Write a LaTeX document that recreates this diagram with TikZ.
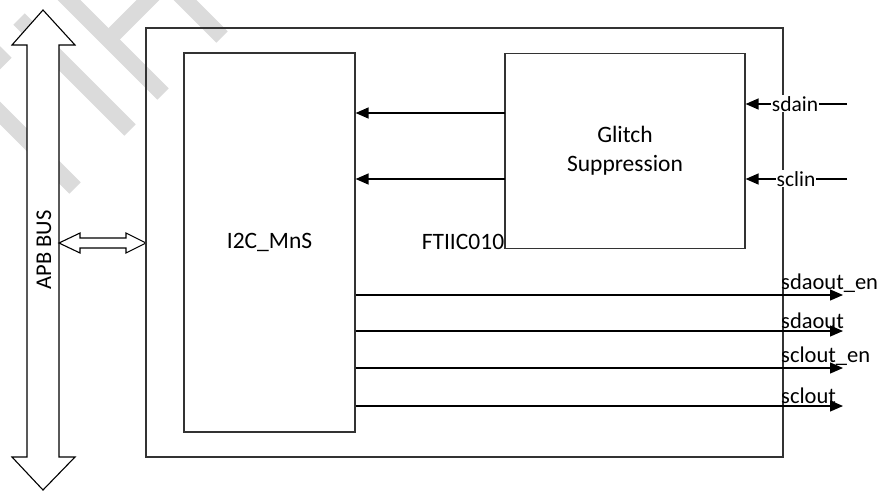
\documentclass[tikz,border=0pt]{standalone}
\usepackage{fontspec}
\setmainfont{Carlito}
\usetikzlibrary{arrows.meta}
\begin{document}
\begin{tikzpicture}[x=1pt,y=-1pt,
  blk/.style={draw=black!80, line width=1.2pt, inner sep=0pt, align=center},
  sig/.style={draw=black, line width=1.3pt, -{Triangle[length=13pt,width=11pt]}},
  lbl/.style={inner sep=1pt, font=\fontsize{22.5}{26}\selectfont},
  wlbl/.style={lbl, fill=white, inner xsep=0.5pt, anchor=base},
  hollow/.style={draw=black, line width=1.1pt, fill=white, line join=miter},
  wm/.style={draw=black!14, line width=16pt, line cap=butt}]
\useasboundingbox (0,0) rectangle (887,491);
% watermark
\begin{scope}
\clip (0,0) rectangle (887,491);
\draw[wm] (55,-14) -- (163,94);
\draw[wm] (19,19) -- (130,130);
\draw[wm] (-20,93) -- (75,188);
\draw[wm] (158,-10) -- (110,38);
\draw[wm] (175,-10) -- (222,37);
\draw[wm] (-15,73) -- (6,52);
\end{scope}
% APB bus arrow
\draw[hollow] (43,10) -- (75,45) -- (59,45) -- (59,457) -- (75,457) -- (43,490)
  -- (12,457) -- (27,457) -- (27,45) -- (12,45) -- cycle;
\node[lbl, rotate=90] (apb) at (44,250) {APB BUS};
% small double arrow
\draw[hollow] (59,243) -- (80,233) -- (80,238) -- (126,238) -- (126,233) -- (146,243)
  -- (126,253) -- (126,248) -- (80,248) -- (80,253) -- cycle;
% blocks
\node[blk, minimum width=637pt, minimum height=429pt] (outer) at (464.5,242.5) {};
\node[blk, minimum width=171pt, minimum height=379pt, font=\fontsize{23.5}{27}\selectfont] (i2c) at (269.5,242.5) {I2C\_MnS};
\node[blk, minimum width=240pt, minimum height=195pt, font=\fontsize{23.5}{29}\selectfont] (gs) at (625,151) {Glitch\\Suppression};
\node[lbl, font=\fontsize{23.5}{27}\selectfont] (ft) at (463,242) {FTIIC010};
% glitch -> i2c
\coordinate (g1) at (505,113);
\coordinate (g2) at (505,179);
\draw[sig] (g1) -- (i2c.east |- g1);
\draw[sig] (g2) -- (i2c.east |- g2);
% inputs
\coordinate (sdainEnd) at (847,104);
\coordinate (sclinEnd) at (847,179);
\draw[sig] (sdainEnd) -- (gs.east |- sdainEnd);
\draw[sig] (sclinEnd) -- (gs.east |- sclinEnd);
\node[wlbl, font=\fontsize{21.5}{25}\selectfont] (sdain) at (795,111) {sdain};
\node[wlbl, font=\fontsize{21.5}{25}\selectfont] (sclin) at (796,186) {sclin};
% outputs
\coordinate (o1) at (843,295);
\coordinate (o2) at (843,331);
\coordinate (o3) at (843,368);
\coordinate (o4) at (843,406);
\draw[sig] (i2c.east |- o1) -- (o1);
\draw[sig] (i2c.east |- o2) -- (o2);
\draw[sig] (i2c.east |- o3) -- (o3);
\draw[sig] (i2c.east |- o4) -- (o4);
\node[lbl, anchor=south west] (l1) at (780,294) {sdaout\_en};
\node[lbl, anchor=south west] (l2) at (780,330) {sdaout};
\node[lbl, anchor=south west] (l3) at (780,367) {sclout\_en};
\node[lbl, anchor=south west] (l4) at (780,405) {sclout};
\end{tikzpicture}
\end{document}
